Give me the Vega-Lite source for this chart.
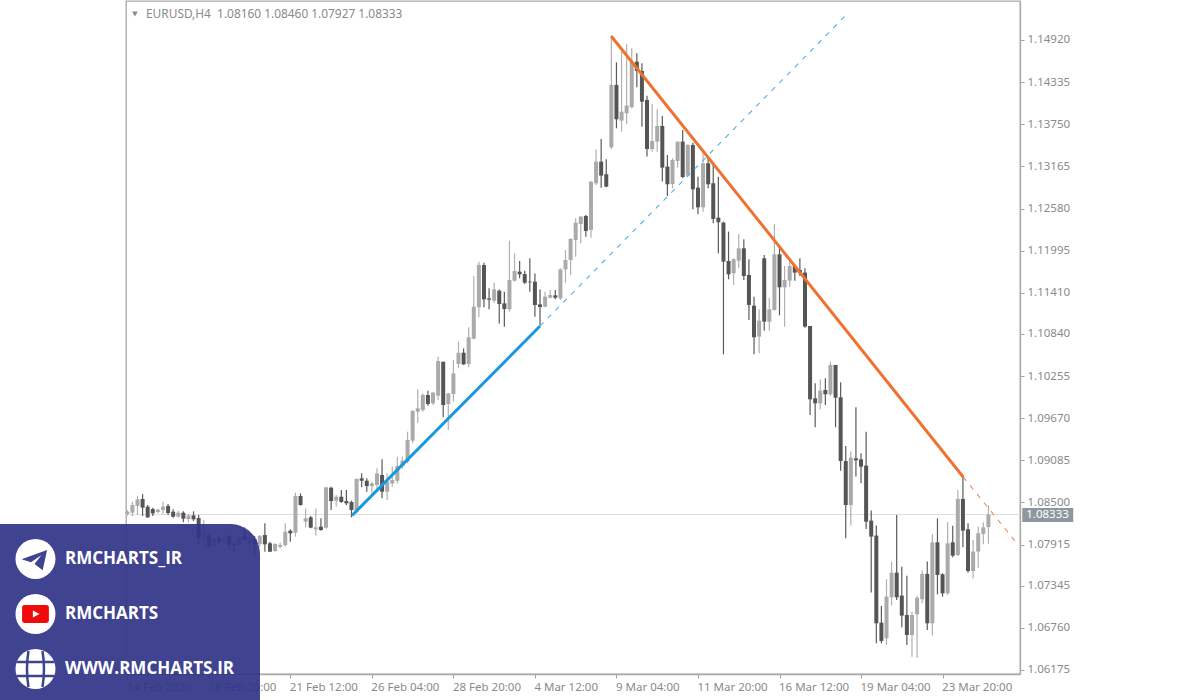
{
"$schema":"https://vega.github.io/schema/vega-lite/v6.json",
"width":894,"height":673,
"autosize":"none",
"padding":{"left":126,"top":1,"right":180,"bottom":26},
"background":"white",
"config":{"view":{"stroke":"#a9a9a9","strokeWidth":1.3},"font":"Noto Sans","scale":{"continuousPadding":0}},
"datasets":{
"candles":[
{"i":0,"o":1.08340,"h":1.08395,"l":1.08312,"c":1.08372},
{"i":1,"o":1.08358,"h":1.08511,"l":1.08312,"c":1.08465},
{"i":2,"o":1.08451,"h":1.08590,"l":1.08326,"c":1.08543},
{"i":3,"o":1.08548,"h":1.08617,"l":1.08312,"c":1.08428},
{"i":4,"o":1.08442,"h":1.08465,"l":1.08284,"c":1.08294},
{"i":5,"o":1.08409,"h":1.08428,"l":1.08312,"c":1.08349},
{"i":6,"o":1.08368,"h":1.08418,"l":1.08349,"c":1.08400},
{"i":7,"o":1.08395,"h":1.08511,"l":1.08340,"c":1.08442},
{"i":8,"o":1.08451,"h":1.08479,"l":1.08326,"c":1.08354},
{"i":9,"o":1.08372,"h":1.08405,"l":1.08289,"c":1.08303},
{"i":10,"o":1.08303,"h":1.08386,"l":1.08289,"c":1.08358},
{"i":11,"o":1.08358,"h":1.08377,"l":1.08224,"c":1.08275},
{"i":12,"o":1.08270,"h":1.08340,"l":1.08224,"c":1.08321},
{"i":13,"o":1.08321,"h":1.08377,"l":1.08243,"c":1.08266},
{"i":14,"o":1.08284,"h":1.08326,"l":1.07923,"c":1.08016},
{"i":15,"o":1.08016,"h":1.08257,"l":1.07886,"c":1.08057},
{"i":16,"o":1.08039,"h":1.08062,"l":1.07872,"c":1.07896},
{"i":17,"o":1.07933,"h":1.08025,"l":1.07877,"c":1.07993},
{"i":18,"o":1.08011,"h":1.08025,"l":1.07933,"c":1.07947},
{"i":19,"o":1.07956,"h":1.08034,"l":1.07933,"c":1.08021},
{"i":20,"o":1.08034,"h":1.08058,"l":1.07840,"c":1.07910},
{"i":21,"o":1.07923,"h":1.07956,"l":1.07817,"c":1.07905},
{"i":22,"o":1.07910,"h":1.08025,"l":1.07886,"c":1.08016},
{"i":23,"o":1.08034,"h":1.08155,"l":1.07979,"c":1.07988},
{"i":24,"o":1.07933,"h":1.08071,"l":1.07886,"c":1.08002},
{"i":25,"o":1.07988,"h":1.08034,"l":1.07771,"c":1.07923},
{"i":26,"o":1.07923,"h":1.08048,"l":1.07886,"c":1.08034},
{"i":27,"o":1.08048,"h":1.08210,"l":1.07817,"c":1.07919},
{"i":28,"o":1.07933,"h":1.07956,"l":1.07813,"c":1.07817},
{"i":29,"o":1.07826,"h":1.07933,"l":1.07817,"c":1.07923},
{"i":30,"o":1.07886,"h":1.07942,"l":1.07863,"c":1.07910},
{"i":31,"o":1.07910,"h":1.08210,"l":1.07886,"c":1.08095},
{"i":32,"o":1.08108,"h":1.08127,"l":1.07956,"c":1.08071},
{"i":33,"o":1.08081,"h":1.08636,"l":1.08025,"c":1.08590},
{"i":34,"o":1.08590,"h":1.08627,"l":1.08455,"c":1.08465},
{"i":35,"o":1.08233,"h":1.08418,"l":1.08155,"c":1.08280},
{"i":36,"o":1.08294,"h":1.08312,"l":1.08141,"c":1.08150},
{"i":37,"o":1.08127,"h":1.08418,"l":1.08039,"c":1.08155},
{"i":38,"o":1.08164,"h":1.08280,"l":1.08108,"c":1.08118},
{"i":39,"o":1.08150,"h":1.08719,"l":1.08136,"c":1.08710},
{"i":40,"o":1.08705,"h":1.08719,"l":1.08395,"c":1.08520},
{"i":41,"o":1.08525,"h":1.08604,"l":1.08442,"c":1.08580},
{"i":42,"o":1.08580,"h":1.08673,"l":1.08497,"c":1.08506},
{"i":43,"o":1.08520,"h":1.08673,"l":1.08460,"c":1.08488},
{"i":44,"o":1.08506,"h":1.08525,"l":1.08294,"c":1.08395},
{"i":45,"o":1.08372,"h":1.08835,"l":1.08349,"c":1.08826},
{"i":46,"o":1.08835,"h":1.08904,"l":1.08710,"c":1.08802},
{"i":47,"o":1.08802,"h":1.08835,"l":1.08650,"c":1.08728},
{"i":48,"o":1.08728,"h":1.08789,"l":1.08627,"c":1.08765},
{"i":49,"o":1.08742,"h":1.08974,"l":1.08650,"c":1.08904},
{"i":50,"o":1.08881,"h":1.09099,"l":1.08557,"c":1.08650},
{"i":51,"o":1.08650,"h":1.08904,"l":1.08534,"c":1.08789},
{"i":52,"o":1.08765,"h":1.08997,"l":1.08719,"c":1.08812},
{"i":53,"o":1.08802,"h":1.09136,"l":1.08765,"c":1.09006},
{"i":54,"o":1.09006,"h":1.09136,"l":1.08974,"c":1.09080},
{"i":55,"o":1.09066,"h":1.09483,"l":1.09043,"c":1.09367},
{"i":56,"o":1.09358,"h":1.09783,"l":1.09321,"c":1.09770},
{"i":57,"o":1.09760,"h":1.10070,"l":1.09608,"c":1.09807},
{"i":58,"o":1.09783,"h":1.10015,"l":1.09760,"c":1.09992},
{"i":59,"o":1.09992,"h":1.10052,"l":1.09844,"c":1.09867},
{"i":60,"o":1.09876,"h":1.10038,"l":1.09853,"c":1.10024},
{"i":61,"o":1.09982,"h":1.10524,"l":1.09922,"c":1.10464},
{"i":62,"o":1.10454,"h":1.10454,"l":1.09682,"c":1.09853},
{"i":63,"o":1.09867,"h":1.10015,"l":1.09506,"c":1.10015},
{"i":64,"o":1.10006,"h":1.10477,"l":1.09899,"c":1.10292},
{"i":65,"o":1.10422,"h":1.10732,"l":1.10362,"c":1.10579},
{"i":66,"o":1.10579,"h":1.10639,"l":1.10408,"c":1.10417},
{"i":67,"o":1.10422,"h":1.10931,"l":1.10376,"c":1.10792},
{"i":68,"o":1.10774,"h":1.11643,"l":1.10764,"c":1.11218},
{"i":69,"o":1.11209,"h":1.11842,"l":1.11070,"c":1.11796},
{"i":70,"o":1.11796,"h":1.11829,"l":1.11209,"c":1.11320},
{"i":71,"o":1.11333,"h":1.11472,"l":1.11181,"c":1.11315},
{"i":72,"o":1.11301,"h":1.11551,"l":1.11273,"c":1.11458},
{"i":73,"o":1.11440,"h":1.11458,"l":1.10986,"c":1.11255},
{"i":74,"o":1.11264,"h":1.11426,"l":1.10940,"c":1.11185},
{"i":75,"o":1.11181,"h":1.12134,"l":1.11148,"c":1.11588},
{"i":76,"o":1.11579,"h":1.11958,"l":1.11565,"c":1.11713},
{"i":77,"o":1.11704,"h":1.11852,"l":1.11611,"c":1.11667},
{"i":78,"o":1.11671,"h":1.11718,"l":1.11532,"c":1.11551},
{"i":79,"o":1.11565,"h":1.11889,"l":1.11426,"c":1.11556},
{"i":80,"o":1.11565,"h":1.11680,"l":1.11079,"c":1.11241},
{"i":81,"o":1.11250,"h":1.11458,"l":1.10963,"c":1.11213},
{"i":82,"o":1.11218,"h":1.11426,"l":1.11209,"c":1.11357},
{"i":83,"o":1.11343,"h":1.11449,"l":1.11333,"c":1.11380},
{"i":84,"o":1.11375,"h":1.11449,"l":1.11320,"c":1.11343},
{"i":85,"o":1.11333,"h":1.11750,"l":1.11310,"c":1.11736},
{"i":86,"o":1.11737,"h":1.12005,"l":1.11551,"c":1.11866},
{"i":87,"o":1.11866,"h":1.12167,"l":1.11658,"c":1.12158},
{"i":88,"o":1.12144,"h":1.12444,"l":1.11912,"c":1.12384},
{"i":89,"o":1.12366,"h":1.12477,"l":1.12097,"c":1.12468},
{"i":90,"o":1.12477,"h":1.12491,"l":1.12190,"c":1.12269},
{"i":91,"o":1.12283,"h":1.12963,"l":1.12176,"c":1.12953},
{"i":92,"o":1.12931,"h":1.13403,"l":1.12907,"c":1.13231},
{"i":93,"o":1.13231,"h":1.13546,"l":1.12870,"c":1.13037},
{"i":94,"o":1.13056,"h":1.13264,"l":1.12875,"c":1.12884},
{"i":95,"o":1.13430,"h":1.14976,"l":1.13403,"c":1.14296},
{"i":96,"o":1.14296,"h":1.14610,"l":1.13694,"c":1.13819},
{"i":97,"o":1.13800,"h":1.14758,"l":1.13648,"c":1.13925},
{"i":98,"o":1.13902,"h":1.14860,"l":1.13750,"c":1.14009},
{"i":99,"o":1.13986,"h":1.14805,"l":1.13972,"c":1.14619},
{"i":100,"o":1.14619,"h":1.14735,"l":1.14263,"c":1.14490},
{"i":101,"o":1.14490,"h":1.14596,"l":1.13717,"c":1.14064},
{"i":102,"o":1.14087,"h":1.14147,"l":1.13301,"c":1.13407},
{"i":103,"o":1.13407,"h":1.14032,"l":1.13370,"c":1.13518},
{"i":104,"o":1.13509,"h":1.13958,"l":1.13370,"c":1.13726},
{"i":105,"o":1.13726,"h":1.13865,"l":1.12954,"c":1.13148},
{"i":106,"o":1.13162,"h":1.13324,"l":1.12755,"c":1.12917},
{"i":107,"o":1.12921,"h":1.13278,"l":1.12861,"c":1.13254},
{"i":108,"o":1.13241,"h":1.13509,"l":1.13148,"c":1.13509},
{"i":109,"o":1.13509,"h":1.13671,"l":1.13000,"c":1.13018},
{"i":110,"o":1.13037,"h":1.13472,"l":1.13023,"c":1.13463},
{"i":111,"o":1.13463,"h":1.13495,"l":1.12570,"c":1.12847},
{"i":112,"o":1.12870,"h":1.13023,"l":1.12500,"c":1.12597},
{"i":113,"o":1.12597,"h":1.13347,"l":1.12537,"c":1.13208},
{"i":114,"o":1.13208,"h":1.13310,"l":1.12861,"c":1.12917},
{"i":115,"o":1.12931,"h":1.13185,"l":1.12375,"c":1.12436},
{"i":116,"o":1.12454,"h":1.13023,"l":1.11959,"c":1.12389},
{"i":117,"o":1.12385,"h":1.12399,"l":1.10557,"c":1.11843},
{"i":118,"o":1.11852,"h":1.12260,"l":1.11598,"c":1.11667},
{"i":119,"o":1.11681,"h":1.11889,"l":1.11519,"c":1.11876},
{"i":120,"o":1.11857,"h":1.12227,"l":1.11751,"c":1.12028},
{"i":121,"o":1.12028,"h":1.12153,"l":1.11589,"c":1.11644},
{"i":122,"o":1.11658,"h":1.11876,"l":1.11033,"c":1.11242},
{"i":123,"o":1.11232,"h":1.11357,"l":1.10557,"c":1.10793},
{"i":124,"o":1.10802,"h":1.11182,"l":1.10571,"c":1.11024},
{"i":125,"o":1.11889,"h":1.11936,"l":1.10885,"c":1.11010},
{"i":126,"o":1.11010,"h":1.11343,"l":1.10885,"c":1.11182},
{"i":127,"o":1.11172,"h":1.12366,"l":1.11163,"c":1.11945},
{"i":128,"o":1.11945,"h":1.12061,"l":1.11098,"c":1.11487},
{"i":129,"o":1.11487,"h":1.11783,"l":1.10941,"c":1.11589},
{"i":130,"o":1.11579,"h":1.11866,"l":1.11496,"c":1.11783},
{"i":131,"o":1.11783,"h":1.11797,"l":1.11579,"c":1.11691},
{"i":132,"o":1.11728,"h":1.11889,"l":1.11644,"c":1.11681},
{"i":133,"o":1.11691,"h":1.11751,"l":1.10927,"c":1.10941},
{"i":134,"o":1.10950,"h":1.10950,"l":1.09715,"c":1.09932},
{"i":135,"o":1.09946,"h":1.10154,"l":1.09544,"c":1.09877},
{"i":136,"o":1.09877,"h":1.10210,"l":1.09793,"c":1.10053},
{"i":137,"o":1.10062,"h":1.10224,"l":1.09854,"c":1.10002},
{"i":138,"o":1.10002,"h":1.10455,"l":1.09978,"c":1.10409},
{"i":139,"o":1.10409,"h":1.10409,"l":1.09544,"c":1.09955},
{"i":140,"o":1.09960,"h":1.10168,"l":1.08942,"c":1.09076},
{"i":141,"o":1.09076,"h":1.09284,"l":1.08003,"c":1.08465},
{"i":142,"o":1.08465,"h":1.09206,"l":1.08179,"c":1.09122},
{"i":143,"o":1.09113,"h":1.09821,"l":1.08859,"c":1.09085},
{"i":144,"o":1.09099,"h":1.09183,"l":1.08766,"c":1.08997},
{"i":145,"o":1.09011,"h":1.09483,"l":1.08132,"c":1.08234},
{"i":146,"o":1.08248,"h":1.08387,"l":1.07249,"c":1.08026},
{"i":147,"o":1.08040,"h":1.08179,"l":1.06545,"c":1.06823},
{"i":148,"o":1.06832,"h":1.07063,"l":1.06545,"c":1.06578},
{"i":149,"o":1.06615,"h":1.07434,"l":1.06522,"c":1.07193},
{"i":150,"o":1.07184,"h":1.07679,"l":1.07068,"c":1.07526},
{"i":151,"o":1.07526,"h":1.08327,"l":1.07147,"c":1.07184},
{"i":152,"o":1.07207,"h":1.07609,"l":1.06767,"c":1.06929},
{"i":153,"o":1.06938,"h":1.07484,"l":1.06522,"c":1.06661},
{"i":154,"o":1.06661,"h":1.06985,"l":1.06360,"c":1.06938},
{"i":155,"o":1.06948,"h":1.07202,"l":1.06346,"c":1.07179},
{"i":156,"o":1.07156,"h":1.07554,"l":1.07100,"c":1.07508},
{"i":157,"o":1.07508,"h":1.07679,"l":1.06730,"c":1.06823},
{"i":158,"o":1.06823,"h":1.08063,"l":1.06652,"c":1.07947},
{"i":159,"o":1.07947,"h":1.08280,"l":1.07225,"c":1.07494},
{"i":160,"o":1.07503,"h":1.07517,"l":1.07193,"c":1.07239},
{"i":161,"o":1.07239,"h":1.08225,"l":1.07216,"c":1.07933},
{"i":162,"o":1.07947,"h":1.08178,"l":1.07739,"c":1.07762},
{"i":163,"o":1.07771,"h":1.08674,"l":1.07757,"c":1.08549},
{"i":164,"o":1.08549,"h":1.08882,"l":1.07878,"c":1.08109},
{"i":165,"o":1.08128,"h":1.08211,"l":1.07526,"c":1.07549},
{"i":166,"o":1.07549,"h":1.07980,"l":1.07447,"c":1.07818},
{"i":167,"o":1.07818,"h":1.08165,"l":1.07595,"c":1.08072},
{"i":168,"o":1.08063,"h":1.08225,"l":1.07919,"c":1.08155},
{"i":169,"o":1.08160,"h":1.08460,"l":1.07927,"c":1.08333}
]
},
"layer":[
{"data":{"values":[{"a":-0.255,"b":175.2,"p":1.08333}]},
 "mark":{"type":"rule","color":"#dedede","strokeWidth":1},
 "encoding":{
  "x":{"field":"a","type":"quantitative","scale":{"domain":[-0.255,175.2],"nice":false,"zero":false},
   "axis":{"title":null,"orient":"bottom","grid":false,"values":[0,16,32,48,64,80,96,112,128,144,160],
    "labelExpr":"['14 Feb 2020','18 Feb 20:00','21 Feb 12:00','26 Feb 04:00','28 Feb 20:00','4 Mar 12:00','9 Mar 04:00','11 Mar 20:00','16 Mar 12:00','19 Mar 04:00','23 Mar 20:00'][datum.value/16]",
    "labelAlign":"left","labelBaseline":"top","labelOffset":-1,"labelPadding":3,"labelFont":"Noto Sans","labelFontSize":11.5,"labelColor":"#8a8a8a","labelOverlap":false,"labelFlush":false,"tickSize":4,"tickColor":"#a0a0a0","domainColor":"#a9a9a9","domainWidth":1.3}},
  "x2":{"field":"b"},
  "y":{"field":"p","type":"quantitative","scale":{"domain":[1.06119,1.15461],"nice":false,"zero":false},
   "axis":{"title":null,"orient":"right","grid":false,"values":[1.1492,1.14335,1.1375,1.13165,1.1258,1.11995,1.1141,1.1084,1.10255,1.0967,1.09085,1.085,1.07915,1.07345,1.0676,1.06175],
    "format":".5f","labelPadding":3,"labelFont":"Noto Sans","labelFontSize":11.5,"labelColor":"#8a8a8a","labelOverlap":false,"labelFlush":false,"tickSize":4,"tickColor":"#a0a0a0","domainColor":"#a9a9a9","domainWidth":1.3}}
 }},
{"data":{"name":"candles"},
 "mark":{"type":"rule","strokeWidth":1.2},
 "encoding":{
  "x":{"field":"i","type":"quantitative","scale":{"domain":[-0.255,175.2],"nice":false,"zero":false},"title":null},
  "y":{"field":"l","type":"quantitative","scale":{"domain":[1.06119,1.15461],"nice":false,"zero":false},"title":null},
  "y2":{"field":"h"},
  "color":{"condition":{"test":"datum.c>=datum.o","value":"#b0b0b0"},"value":"#5a5a5a"}
 }},
{"data":{"name":"candles"},
 "mark":{"type":"bar","size":4},
 "encoding":{
  "x":{"field":"i","type":"quantitative","scale":{"domain":[-0.255,175.2],"nice":false,"zero":false},"title":null},
  "y":{"field":"o","type":"quantitative","scale":{"domain":[1.06119,1.15461],"nice":false,"zero":false},"title":null},
  "y2":{"field":"c"},
  "color":{"condition":{"test":"datum.c>=datum.o","value":"#aaaaaa"},"value":"#555555"}
 }},
{"data":{"values":[{"t":81.01,"p":1.1095},{"t":140.89,"p":1.15253}]},
 "mark":{"type":"line","color":"#4fb0e6","strokeWidth":1.1,"strokeDash":[5,6]},
 "encoding":{
  "x":{"field":"t","type":"quantitative","scale":{"domain":[-0.255,175.2],"nice":false,"zero":false},"title":null},
  "y":{"field":"p","type":"quantitative","scale":{"domain":[1.06119,1.15461],"nice":false,"zero":false},"title":null}
 }},
{"data":{"values":[{"t":44.11,"p":1.0832},{"t":81.01,"p":1.1095}]},
 "mark":{"type":"line","color":"#1a98df","strokeWidth":3},
 "encoding":{
  "x":{"field":"t","type":"quantitative","scale":{"domain":[-0.255,175.2],"nice":false,"zero":false},"title":null},
  "y":{"field":"p","type":"quantitative","scale":{"domain":[1.06119,1.15461],"nice":false,"zero":false},"title":null}
 }},
{"data":{"values":[{"t":164.05,"p":1.08854},{"t":174.85,"p":1.0791}]},
 "mark":{"type":"line","color":"#ee8a55","strokeWidth":1.1,"strokeDash":[5,6]},
 "encoding":{
  "x":{"field":"t","type":"quantitative","scale":{"domain":[-0.255,175.2],"nice":false,"zero":false},"title":null},
  "y":{"field":"p","type":"quantitative","scale":{"domain":[1.06119,1.15461],"nice":false,"zero":false},"title":null}
 }},
{"data":{"values":[{"t":94.95,"p":1.14976},{"t":164.05,"p":1.08854}]},
 "mark":{"type":"line","color":"#ee7230","strokeWidth":3},
 "encoding":{
  "x":{"field":"t","type":"quantitative","scale":{"domain":[-0.255,175.2],"nice":false,"zero":false},"title":null},
  "y":{"field":"p","type":"quantitative","scale":{"domain":[1.06119,1.15461],"nice":false,"zero":false},"title":null}
 }},
{"data":{"values":[{"a":175.64,"b":185.65,"p":1.08423,"q":1.08229}]},
 "mark":{"type":"rect","fill":"#8e979f"},
 "encoding":{
  "x":{"field":"a","type":"quantitative","scale":{"domain":[-0.255,175.2],"nice":false,"zero":false},"title":null},
  "x2":{"field":"b"},
  "y":{"field":"p","type":"quantitative","scale":{"domain":[1.06119,1.15461],"nice":false,"zero":false},"title":null},
  "y2":{"field":"q"}
 }},
{"data":{"values":[{"a":176.43,"p":1.08333,"s":"1.08333"}]},
 "mark":{"type":"text","align":"left","baseline":"middle","color":"white","font":"Noto Sans","fontSize":11.5},
 "encoding":{
  "x":{"field":"a","type":"quantitative","scale":{"domain":[-0.255,175.2],"nice":false,"zero":false},"title":null},
  "y":{"field":"p","type":"quantitative","scale":{"domain":[1.06119,1.15461],"nice":false,"zero":false},"title":null},
  "text":{"field":"s"}
 }},
{"data":{"values":[{"a":3.67,"p":1.15281,"s":"EURUSD,H4 \u00a01.08160 1.08460 1.07927 1.08333"}]},
 "mark":{"type":"text","align":"left","baseline":"middle","color":"#8a8a8a","font":"Noto Sans","fontSize":11.9},
 "encoding":{
  "x":{"field":"a","type":"quantitative","scale":{"domain":[-0.255,175.2],"nice":false,"zero":false},"title":null},
  "y":{"field":"p","type":"quantitative","scale":{"domain":[1.06119,1.15461],"nice":false,"zero":false},"title":null},
  "text":{"field":"s"}
 }},
{"data":{"values":[{"a":1.5,"p":1.15281}]},
 "mark":{"type":"point","shape":"triangle-down","filled":true,"size":32,"color":"#8a8a8a","opacity":1},
 "encoding":{
  "x":{"field":"a","type":"quantitative","scale":{"domain":[-0.255,175.2],"nice":false,"zero":false},"title":null},
  "y":{"field":"p","type":"quantitative","scale":{"domain":[1.06119,1.15461],"nice":false,"zero":false},"title":null}
 }},
{"data":{"values":[{"a":-26,"b":26.04,"p":1.08201,"q":1.05731}]},
 "mark":{"type":"rect","fill":"#323587","opacity":0.93,"cornerRadiusTopRight":30},
 "encoding":{
  "x":{"field":"a","type":"quantitative","scale":{"domain":[-0.255,175.2],"nice":false,"zero":false},"title":null},
  "x2":{"field":"b"},
  "y":{"field":"p","type":"quantitative","scale":{"domain":[1.06119,1.15461],"nice":false,"zero":false},"title":null},
  "y2":{"field":"q"}
 }},
{"data":{"values":[{"a":-18.02,"p":1.07716},{"a":-18.02,"p":1.06952},{"a":-18.02,"p":1.06189}]},
 "mark":{"type":"point","shape":"circle","filled":true,"size":1600,"color":"white","opacity":1},
 "encoding":{
  "x":{"field":"a","type":"quantitative","scale":{"domain":[-0.255,175.2],"nice":false,"zero":false},"title":null},
  "y":{"field":"p","type":"quantitative","scale":{"domain":[1.06119,1.15461],"nice":false,"zero":false},"title":null}
 }},
{"data":{"values":[{"a":-18.02,"p":1.07716}]},
 "mark":{"type":"point","shape":"M0.58 -0.45 L-0.7 0.02 L-0.22 0.17 L0.3 -0.2 L-0.05 0.25 L0.36 0.56 Z","filled":true,"size":1600,"color":"#40438f","opacity":1},
 "encoding":{
  "x":{"field":"a","type":"quantitative","scale":{"domain":[-0.255,175.2],"nice":false,"zero":false},"title":null},
  "y":{"field":"p","type":"quantitative","scale":{"domain":[1.06119,1.15461],"nice":false,"zero":false},"title":null}
 }},
{"data":{"values":[{"a":-18.02,"p":1.06952}]},
 "mark":{"type":"point","shape":"M-0.55 -0.45 L0.55 -0.45 Q0.67 -0.45 0.67 -0.33 L0.67 0.33 Q0.67 0.45 0.55 0.45 L-0.55 0.45 Q-0.67 0.45 -0.67 0.33 L-0.67 -0.33 Q-0.67 -0.45 -0.55 -0.45 Z","filled":true,"size":1600,"color":"#f00b0b","opacity":1},
 "encoding":{
  "x":{"field":"a","type":"quantitative","scale":{"domain":[-0.255,175.2],"nice":false,"zero":false},"title":null},
  "y":{"field":"p","type":"quantitative","scale":{"domain":[1.06119,1.15461],"nice":false,"zero":false},"title":null}
 }},
{"data":{"values":[{"a":-18.02,"p":1.06952}]},
 "mark":{"type":"point","shape":"M-0.13 -0.18 L0.2 0 L-0.13 0.18 Z","filled":true,"size":1600,"color":"white","opacity":1},
 "encoding":{
  "x":{"field":"a","type":"quantitative","scale":{"domain":[-0.255,175.2],"nice":false,"zero":false},"title":null},
  "y":{"field":"p","type":"quantitative","scale":{"domain":[1.06119,1.15461],"nice":false,"zero":false},"title":null}
 }},
{"data":{"values":[{"a":-18.02,"p":1.06189}]},
 "mark":{"type":"point","shape":"M-0.95 -0.35 L0.95 -0.35 M-0.95 0.35 L0.95 0.35 M-0.35 -0.9 Q-0.5 0 -0.35 0.9 M0.35 -0.9 Q0.5 0 0.35 0.9","filled":false,"size":1600,"stroke":"#40438f","strokeWidth":2.5,"opacity":1},
 "encoding":{
  "x":{"field":"a","type":"quantitative","scale":{"domain":[-0.255,175.2],"nice":false,"zero":false},"title":null},
  "y":{"field":"p","type":"quantitative","scale":{"domain":[1.06119,1.15461],"nice":false,"zero":false},"title":null}
 }},
{"data":{"values":[{"a":-12.23,"p":1.07716,"s":"RMCHARTS_IR"},{"a":-12.23,"p":1.06952,"s":"RMCHARTS"},{"a":-12.23,"p":1.06189,"s":"WWW.RMCHARTS.IR"}]},
 "mark":{"type":"text","align":"left","baseline":"middle","color":"white","font":"Open Sans","fontWeight":"bold","fontSize":17},
 "encoding":{
  "x":{"field":"a","type":"quantitative","scale":{"domain":[-0.255,175.2],"nice":false,"zero":false},"title":null},
  "y":{"field":"p","type":"quantitative","scale":{"domain":[1.06119,1.15461],"nice":false,"zero":false},"title":null},
  "text":{"field":"s"}
 }}
]
}
